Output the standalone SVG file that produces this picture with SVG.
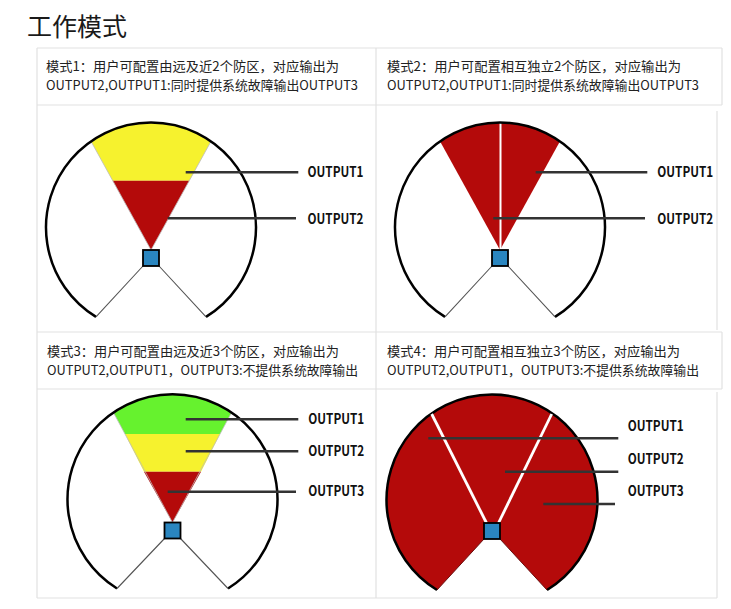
<svg xmlns="http://www.w3.org/2000/svg" width="731" height="609" viewBox="0 0 731 609">
<defs>
<style>
.grid{stroke:#e2e2e2;stroke-width:1.2;fill:none}
.hdr{font-family:"Noto Sans CJK SC","Noto Sans",sans-serif;font-size:13px;fill:#222}
.lbl{font-family:"Noto Sans CJK SC","Noto Sans",sans-serif;font-size:14.5px;font-weight:bold;fill:#111}
.title{font-family:"Noto Sans CJK SC","Noto Sans",sans-serif;font-size:25px;fill:#1a1a1a}
.arc{fill:none;stroke:#000;stroke-width:2.5}
.edge{stroke:#555;stroke-width:1.1;fill:none}
.sedge{stroke:#bbb;stroke-width:0.8;fill:none}
.red{fill:#b40a0a}
.yel{fill:#f6f22e}
.grn{fill:#66f22e}
.sq{fill:#2a86c0;stroke:#000;stroke-width:1.8}
.lead{stroke:#333;stroke-width:2.6}
.wl{stroke:#fff;stroke-width:2.8}
</style>
</defs>
<rect width="731" height="609" fill="#fff"/>
<text class="title" x="27" y="36">工作模式</text>

<g id="table">
<path class="grid" d="M37,48H722M37,105H722M37,48V332M376,48V332M722,48V105M717,111V330M37,332H722M37,389H722M37,332V598M376,332V598M722,332V389M717,392V598M37,598H717"/>
</g>

<g id="header1">
<text class="hdr" x="46" y="70.5" textLength="293" lengthAdjust="spacingAndGlyphs">模式1：用户可配置由远及近2个防区，对应输出为</text>
<text class="hdr" x="46" y="89.5" textLength="312" lengthAdjust="spacingAndGlyphs">OUTPUT2,OUTPUT1:同时提供系统故障输出OUTPUT3</text>
</g>
<g id="header2">
<text class="hdr" x="387" y="70.5" textLength="294" lengthAdjust="spacingAndGlyphs">模式2：用户可配置相互独立2个防区，对应输出为</text>
<text class="hdr" x="387" y="89.5" textLength="312" lengthAdjust="spacingAndGlyphs">OUTPUT2,OUTPUT1:同时提供系统故障输出OUTPUT3</text>
</g>
<g id="header3">
<text class="hdr" x="47" y="356" textLength="292" lengthAdjust="spacingAndGlyphs">模式3：用户可配置由远及近3个防区，对应输出为</text>
<text class="hdr" x="47" y="375" textLength="311" lengthAdjust="spacingAndGlyphs">OUTPUT2,OUTPUT1，OUTPUT3:不提供系统故障输出</text>
</g>
<g id="header4">
<text class="hdr" x="387" y="356" textLength="293" lengthAdjust="spacingAndGlyphs">模式4：用户可配置相互独立3个防区，对应输出为</text>
<text class="hdr" x="387" y="375" textLength="312" lengthAdjust="spacingAndGlyphs">OUTPUT2,OUTPUT1，OUTPUT3:不提供系统故障输出</text>
</g>

<g id="diagram1">
<path class="yel" d="M112.7,180.7L91,141.3A105,105 0 0 1 211,141.3L189.3,180.7Z"/>
<path class="red" d="M151,250L112.7,180.7L189.3,180.7Z"/>
<path class="sedge" d="M151,250L91,141.3M151,250L211,141.3"/>
<path class="arc" d="M96,316.9A105,105 0 1 1 206,316.9"/>
<path class="edge" d="M96,316.9L143,266M206,316.9L159,266"/>
<rect class="sq" x="143" y="250" width="16" height="16"/>
</g>

<g id="diagram2">
<path class="red" d="M500,250L440,141.3A105,105 0 0 1 560,141.3Z"/>
<line class="wl" x1="500.5" y1="123" x2="500.5" y2="250" style="stroke-width:2"/>
<path class="arc" d="M445,316.9A105,105 0 1 1 555,316.9"/>
<path class="edge" d="M445,316.9L492,266M555,316.9L508,266"/>
<rect class="sq" x="492" y="250" width="16" height="16"/>
</g>

<g id="diagram3">
<path class="grn" d="M125,434L113.5,412.6A105,105 0 0 1 231.5,412.6L220,434Z"/>
<path class="yel" d="M125,434L220,434L201,471.7L144,471.7Z"/>
<path class="red" d="M172.5,522.5L144,471.7L201,471.7Z"/>
<path class="sedge" d="M172.5,522.5L113.5,412.6M172.5,522.5L231.5,412.6"/>
<path class="arc" d="M117,588.5A105,105 0 1 1 228,588.5"/>
<path class="edge" d="M117,588.5L164.5,538.5M228,588.5L180.5,538.5"/>
<rect class="sq" x="164.5" y="522.5" width="16" height="16"/>
</g>

<g id="diagram4">
<path class="red" d="M437,590A105.5,105.5 0 1 1 547,590L500,539L484,539Z"/>
<path class="arc" d="M437,590A105.5,105.5 0 1 1 547,590"/>
<path d="M437,590L484,539M547,590L500,539" stroke="#6a1010" stroke-width="1" fill="none"/>
<line class="wl" x1="486.5" y1="523" x2="431.7" y2="414"/>
<line class="wl" x1="498.5" y1="523" x2="551.7" y2="414"/>
<rect class="sq" x="484" y="523" width="16" height="16"/>
</g>

<g id="connectors">
<line class="lead" x1="185.7" y1="172.3" x2="298.3" y2="172.3"/>
<line class="lead" x1="167.7" y1="218.3" x2="296" y2="218.3"/>
<line class="lead" x1="535.7" y1="172.3" x2="647.3" y2="172.3"/>
<line class="lead" x1="493.3" y1="218.3" x2="645" y2="218.3"/>
<line class="lead" x1="185.7" y1="419.3" x2="298.3" y2="419.3"/>
<line class="lead" x1="185.7" y1="451.3" x2="298.3" y2="451.3"/>
<line class="lead" x1="167.7" y1="491.7" x2="296" y2="491.7"/>
<line class="lead" x1="428.3" y1="438.3" x2="618.3" y2="438.3"/>
<line class="lead" x1="505" y1="471.7" x2="618.3" y2="471.7"/>
<line class="lead" x1="543.3" y1="504" x2="615" y2="504"/>
</g>

<g id="labels">
<text class="lbl" x="307.5" y="177" textLength="56" lengthAdjust="spacingAndGlyphs">OUTPUT1</text>
<text class="lbl" x="307.5" y="223.5" textLength="56" lengthAdjust="spacingAndGlyphs">OUTPUT2</text>
<text class="lbl" x="657.3" y="177" textLength="56" lengthAdjust="spacingAndGlyphs">OUTPUT1</text>
<text class="lbl" x="657.3" y="223.5" textLength="56" lengthAdjust="spacingAndGlyphs">OUTPUT2</text>
<text class="lbl" x="308.3" y="424" textLength="56" lengthAdjust="spacingAndGlyphs">OUTPUT1</text>
<text class="lbl" x="308.3" y="456" textLength="56" lengthAdjust="spacingAndGlyphs">OUTPUT2</text>
<text class="lbl" x="308.3" y="496.3" textLength="56" lengthAdjust="spacingAndGlyphs">OUTPUT3</text>
<text class="lbl" x="627.7" y="430.5" textLength="56" lengthAdjust="spacingAndGlyphs">OUTPUT1</text>
<text class="lbl" x="627.7" y="463.8" textLength="56" lengthAdjust="spacingAndGlyphs">OUTPUT2</text>
<text class="lbl" x="627.7" y="496.2" textLength="56" lengthAdjust="spacingAndGlyphs">OUTPUT3</text>
</g>
</svg>
